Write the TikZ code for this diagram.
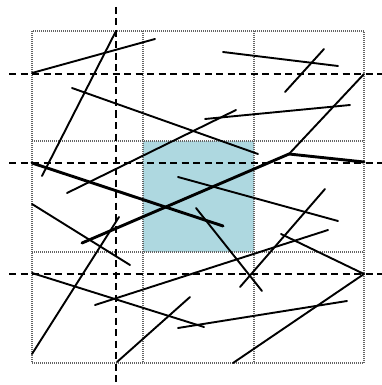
\documentclass[tikz,border=0pt]{standalone}
\definecolor{cellblue}{RGB}{174,216,224}
\definecolor{gridgray}{RGB}{100,100,100}
\begin{document}
\begin{tikzpicture}[x=1pt,y=-1pt,
  seg/.style={line width=1.9pt,line cap=round},
  thickseg/.style={line width=2.9pt,line cap=round},
  gridline/.style={draw=gridgray,line width=1.2pt,dash pattern=on 1pt off 1pt},
  dashline/.style={line width=1.9pt,dash pattern=on 7pt off 4.5pt}]
\useasboundingbox (0,0) rectangle (382,385);
% shaded cell
\fill[cellblue] (143,141) rectangle (254,252);
% dotted grid
\draw[gridline] (32,31) rectangle (364,363);
\draw[gridline] (143,31) -- (143,363);
\draw[gridline] (254,31) -- (254,363);
\draw[gridline] (32,141) -- (364,141);
\draw[gridline] (32,252) -- (364,252);
% dashed lines
\draw[dashline] (116,7) -- (116,385);
\draw[dashline] (9,74) -- (382,74);
\draw[dashline] (9,163) -- (382,163);
\draw[dashline] (9,274) -- (382,274);
% segments
\coordinate (bend) at (289,154);
\draw[seg] (116,31) -- (42,176);
\draw[seg] (32,73) -- (155,39);
\draw[seg] (72,88) -- (258,154);
\draw[seg] (205,119) -- (350,105);
\draw[seg] (67,193) -- (236,110);
\draw[thickseg] (32,163) -- (223,226);
\draw[thickseg] (82,243) -- (bend);
\draw[thickseg] (bend) -- (364,162);
\draw[seg] (bend) -- (364,74);
\draw[seg] (32,204) -- (130,265);
\draw[seg] (32,354) -- (119,217);
\draw[seg] (32,273) -- (204,327);
\draw[seg] (178,328) -- (347,301);
\draw[seg] (95,305) -- (328,230);
\draw[seg] (117,362) -- (190,297);
\draw[seg] (233,363) -- (364,274);
\draw[seg] (281,234) -- (364,274);
\draw[seg] (196,208) -- (262,291);
\draw[seg] (178,177) -- (338,221);
\draw[seg] (223,52) -- (338,66);
\draw[seg] (285,92) -- (324,49);
\draw[seg] (240,287) -- (325,189);
\end{tikzpicture}
\end{document}
